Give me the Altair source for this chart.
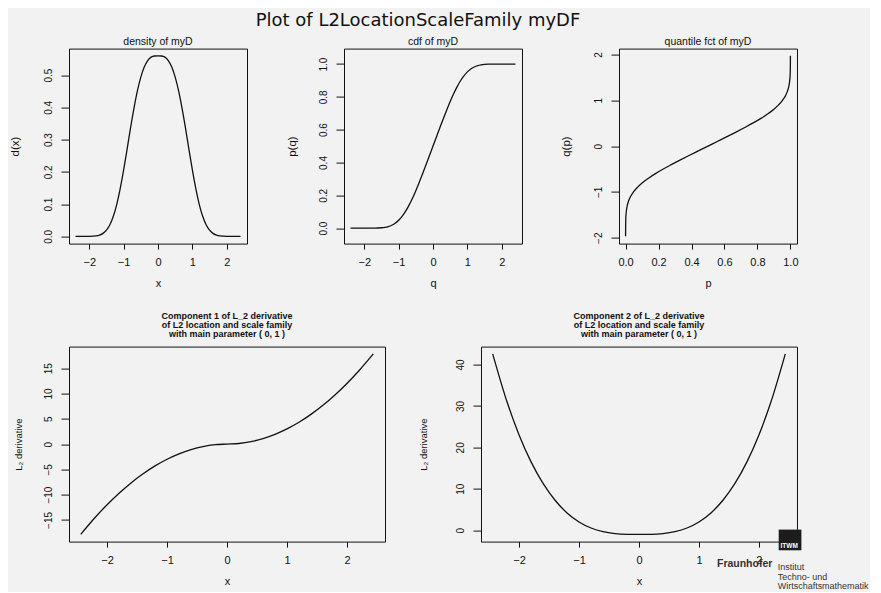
import altair as alt
import pandas as pd

FONT = "Liberation Sans, Arial, Helvetica, sans-serif"
TITLE_FONT = "DejaVu Sans, Liberation Sans, Arial, sans-serif"
INK = "#111111"
BG = "#f2f2f2"

# ---- data ----
dens_x = [-2.4, -2.2, -2.0, -1.8, -1.7, -1.6, -1.5, -1.4, -1.3, -1.2, -1.1, -1.0, -0.9, -0.8, -0.7,
          -0.6, -0.5, -0.4, -0.3, -0.2, -0.1, 0.0, 0.1, 0.2, 0.3, 0.4, 0.5, 0.6, 0.7, 0.8, 0.9, 1.0,
          1.1, 1.2, 1.3, 1.4, 1.5, 1.6, 1.7, 1.8, 2.0, 2.2, 2.4]
dens_y = [0.0, 0.0, 0.0002, 0.0016, 0.0041, 0.0093, 0.0192, 0.036, 0.0622, 0.0995, 0.148, 0.206,
          0.270, 0.336, 0.397, 0.451, 0.494, 0.525, 0.545, 0.556, 0.5594, 0.560, 0.5594, 0.556,
          0.545, 0.525, 0.494, 0.451, 0.397, 0.336, 0.270, 0.206, 0.148, 0.0995, 0.0622, 0.036,
          0.0192, 0.0093, 0.0041, 0.0016, 0.0002, 0.0, 0.0]

cdf_q = [-2.4, -2.2, -2.0, -1.8, -1.7, -1.6, -1.5, -1.4, -1.3, -1.2, -1.1, -1.0, -0.9, -0.8, -0.7,
         -0.6, -0.5, -0.4, -0.3, -0.2, -0.1, 0.0, 0.1, 0.2, 0.3, 0.4, 0.5, 0.6, 0.7, 0.8, 0.9, 1.0,
         1.1, 1.2, 1.3, 1.4, 1.5, 1.6, 1.7, 1.8, 2.0, 2.2, 2.4]
cdf_p = [0.0, 0.0, 0.0, 0.0002, 0.0005, 0.0011, 0.0025, 0.0052, 0.0100, 0.0180, 0.0300, 0.048,
         0.072, 0.102, 0.139, 0.181, 0.2285, 0.280, 0.333, 0.388, 0.444, 0.5, 0.556, 0.612, 0.667,
         0.720, 0.7715, 0.819, 0.861, 0.898, 0.928, 0.952, 0.970, 0.982, 0.990, 0.9948, 0.9975,
         0.9989, 0.9995, 0.9998, 1.0, 1.0, 1.0]

qf_p = [0.0, 0.0002, 0.0011, 0.0025, 0.0052, 0.0100, 0.0180, 0.0300, 0.048, 0.072, 0.102, 0.139,
        0.181, 0.2285, 0.280, 0.333, 0.388, 0.444, 0.5, 0.556, 0.612, 0.667, 0.720, 0.7715, 0.819,
        0.861, 0.898, 0.928, 0.952, 0.970, 0.982, 0.990, 0.9948, 0.9975, 0.9989, 0.9998, 1.0]
qf_q = [-1.97, -1.8, -1.6, -1.5, -1.4, -1.3, -1.2, -1.1, -1.0, -0.9, -0.8, -0.7, -0.6, -0.5, -0.4,
        -0.3, -0.2, -0.1, 0.0, 0.1, 0.2, 0.3, 0.4, 0.5, 0.6, 0.7, 0.8, 0.9, 1.0, 1.1, 1.2, 1.3, 1.4,
        1.5, 1.6, 1.8, 1.97]

l2_x = [-2.44, -2.2, -2.0, -1.8, -1.6, -1.4, -1.2, -1.0, -0.8, -0.6, -0.4, -0.2, 0.0,
        0.2, 0.4, 0.6, 0.8, 1.0, 1.2, 1.4, 1.6, 1.8, 2.0, 2.2, 2.44]
l2_c1 = [-17.86, -14.52, -12.0, -9.72, -7.68, -5.88, -4.32, -3.0, -1.92, -1.08, -0.48, -0.12, 0.0,
         0.12, 0.48, 1.08, 1.92, 3.0, 4.32, 5.88, 7.68, 9.72, 12.0, 14.52, 17.86]
l2_c2 = [42.58, 30.94, 23.0, 16.50, 11.29, 7.23, 4.18, 2.0, 0.54, -0.35, -0.81, -0.98, -1.0,
         -0.98, -0.81, -0.35, 0.54, 2.0, 4.18, 7.23, 11.29, 16.50, 23.0, 30.94, 42.58]

main_title = "Plot of L2LocationScaleFamily myDF"
sub_titles = ["density of myD", "cdf of myD", "quantile fct of myD"]
comp_titles = [
    ["Component 1 of L_2 derivative", "of L2 location and scale family", "with main parameter ( 0, 1 )"],
    ["Component 2 of L_2 derivative", "of L2 location and scale family", "with main parameter ( 0, 1 )"],
]
logo_words = ["Fraunhofer", "ITWM", "Institut", "Techno- und", "Wirtschaftsmathematik"]

ticks_pm2 = [-2, -1, 0, 1, 2]


def curve(df, w, h, xdom, ydom, xticks, yticks, xfmt, yfmt, xtitle, ytitle, ytitle_x,
          ytitle_size):
    xaxis = alt.Axis(values=xticks, format=xfmt, title=xtitle, grid=False, domain=False,
                     tickSize=5.5, tickColor=INK, tickWidth=1, labelFontSize=11, labelPadding=7,
                     labelFlush=False, labelOverlap=False, labelColor=INK, labelFont=FONT,
                     titleFont=FONT, titleFontSize=11, titleFontWeight="normal", titleColor=INK,
                     titleX=w / 2, titleY=43, titleAlign="center", titleBaseline="alphabetic")
    yaxis = alt.Axis(values=yticks, format=yfmt, title=ytitle, grid=False, domain=False,
                     tickSize=8, tickColor=INK, tickWidth=1, labelAngle=270, labelAlign="center",
                     labelBaseline="alphabetic", labelPadding=9.5, labelFontSize=10,
                     labelFlush=False, labelOverlap=False, labelColor=INK, labelFont=FONT,
                     titleFont=FONT, titleFontSize=ytitle_size, titleFontWeight="normal",
                     titleColor=INK, titleAngle=270, titleX=ytitle_x, titleY=h / 2,
                     titleAlign="center", titleBaseline="alphabetic")
    return alt.Chart(df).mark_line(color=INK, strokeWidth=1.3, interpolate="monotone").encode(
        x=alt.X("x:Q", scale=alt.Scale(domain=xdom, nice=False, zero=False), axis=xaxis),
        y=alt.Y("y:Q", scale=alt.Scale(domain=ydom, nice=False, zero=False), axis=yaxis),
        order=alt.Order("i:Q"),
    )


one = pd.DataFrame({"k": [0]})


def label(text, x, y, size, weight="normal", color="#333333", align="left", font=FONT):
    return alt.Chart(one).mark_text(text=text, font=font, fontSize=size, fontWeight=weight,
                                    color=color, align=align, baseline="alphabetic").encode(
        x=alt.value(x), y=alt.value(y))


def sub_title(text, w):
    return label(text, w / 2, -4, 10.5, color=INK, align="center")


def comp_title(lines, w):
    return [label(t, w / 2, -9.3 - 9.3 * (len(lines) - 1 - k), 9, weight="bold", color=INK,
                  align="center") for k, t in enumerate(lines)]


TW, TH = 178, 195
BW, BH = 316, 195

df1 = pd.DataFrame({"x": dens_x, "y": dens_y, "i": range(len(dens_x))})
df2 = pd.DataFrame({"x": cdf_q, "y": cdf_p, "i": range(len(cdf_q))})
df3 = pd.DataFrame({"x": qf_p, "y": qf_q, "i": range(len(qf_p))})
df4 = pd.DataFrame({"x": l2_x, "y": l2_c1, "i": range(len(l2_x))})
df5 = pd.DataFrame({"x": l2_x, "y": l2_c2, "i": range(len(l2_x))})

line1 = curve(df1, TW, TH, [-2.59, 2.59], [-0.0224, 0.5824], ticks_pm2,
              [0.0, 0.1, 0.2, 0.3, 0.4, 0.5], "d", ".1f", "x", "d(x)", -50.7, 11.5)
p1 = alt.layer(line1, sub_title(sub_titles[0], TW)).properties(width=TW, height=TH)

line2 = curve(df2, TW, TH, [-2.59, 2.59], [-0.094, 1.094], ticks_pm2,
              [0.0, 0.2, 0.4, 0.6, 0.8, 1.0], "d", ".1f", "q", "p(q)", -49, 11.5)
main = label(main_title, 74, -22.7, 18, color=INK, align="center", font=TITLE_FONT)
p2 = alt.layer(line2, sub_title(sub_titles[1], TW), main).properties(width=TW, height=TH)

line3 = curve(df3, TW, TH, [-0.04, 1.04], [-2.128, 2.128], [0.0, 0.2, 0.4, 0.6, 0.8, 1.0],
              ticks_pm2, ".1f", "d", "p", "q(p)", -49, 11.5)
p3 = alt.layer(line3, sub_title(sub_titles[2], TW)).properties(width=TW, height=TH)

line4 = curve(df4, BW, BH, [-2.635, 2.635], [-19.29, 19.29], ticks_pm2,
              [-15, -10, -5, 0, 5, 10, 15], "d", "d", "x", "L\u2082 derivative", -47.5, 9.5)
p4 = alt.layer(line4, *comp_title(comp_titles[0], BW)).properties(width=BW, height=BH)

line5 = curve(df5, BW, BH, [-2.635, 2.635], [-2.74, 44.32], ticks_pm2,
              [0, 10, 20, 30, 40], "d", "d", "x", "L\u2082 derivative", -55, 9.5)
logo_box = alt.Chart(one).mark_rect(color="#1c1c1c").encode(
    x=alt.value(297.7), x2=alt.value(320.4), y=alt.value(183), y2=alt.value(203.7))
p5 = alt.layer(
    line5, *comp_title(comp_titles[1], BW), logo_box,
    label(logo_words[1], 299.5, 201.5, 6.5, weight="bold", color="white"),
    label(logo_words[0], 236, 220.5, 10.5, weight="bold"),
    label(logo_words[2], 296.7, 223.5, 9),
    label(logo_words[3], 296.7, 233, 9),
    label(logo_words[4], 296.7, 242.5, 9),
).properties(width=BW, height=BH)

top = alt.hconcat(p1, p2, p3, spacing=97, bounds="flush")
bottom = alt.hconcat(p4, p5, spacing=96, bounds="flush")

chart = alt.vconcat(top, bottom, spacing=21).properties(
    background=BG,
    padding={"left": 0, "top": 2.6, "right": 0, "bottom": 0},
).configure_view(stroke=INK, strokeWidth=1)

chart.save("out.html", embed_options={"renderer": "svg", "actions": False})
